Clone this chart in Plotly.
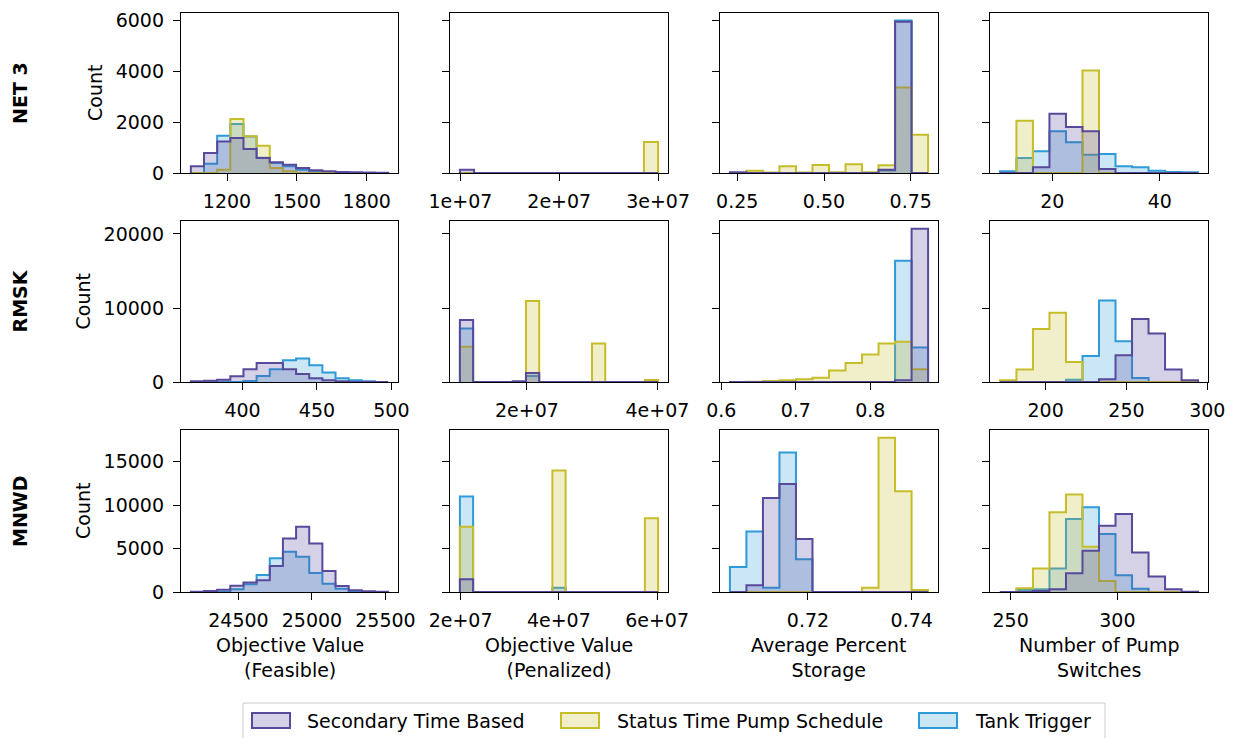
import numpy as np
import plotly.graph_objects as go

W, H = 1233, 738

series_names = ["Secondary Time Based", "Status Time Pump Schedule", "Tank Trigger"]
row_names = ["NET 3", "RMSK", "MNWD"]
col_titles = ["Objective Value<br>(Feasible)", "Objective Value<br>(Penalized)",
              "Average Percent<br>Storage", "Number of Pump<br>Switches"]

# ---------------- NET 3 ----------------
net3_feas_bins = [1044.7, 1892.0, 15]
net3_feas_stb = [261, 784, 1240, 1372, 941, 588, 418, 327, 196, 105, 65, 40, 30, 20, 10]
net3_feas_stps = [0, 0, 130, 2117, 1438, 1072, 196, 65, 0, 0, 0, 0, 0, 0, 0]
net3_feas_tt = [0, 366, 1464, 1921, 1430, 600, 390, 260, 130, 65, 30, 10, 0, 0, 0]

net3_pen_bins = [0.995e7, 3.0e7, 14]
net3_pen_stb = [130, 0, 0, 0, 0, 0, 0, 0, 0, 0, 0, 0, 0, 0]
net3_pen_stps = [0, 0, 0, 0, 0, 0, 0, 0, 0, 0, 0, 0, 0, 1215]
net3_pen_tt = []

net3_stor_bins = [0.2288, 0.80, 12]
net3_stor_stb = [30, 0, 0, 0, 0, 0, 0, 0, 0, 130, 5940, 0]
net3_stor_stps = [0, 90, 20, 260, 20, 314, 30, 340, 30, 300, 3360, 1500]
net3_stor_tt = [0, 0, 0, 0, 0, 0, 0, 0, 0, 100, 5980, 0]

net3_pump_bins = [10.28, 47.1, 12]
net3_pump_stb = [0, 0, 222, 2326, 1804, 1634, 157, 0, 0, 0, 0, 0]
net3_pump_stps = [0, 2052, 0, 0, 0, 4026, 0, 0, 0, 0, 0, 0]
net3_pump_tt = [65, 588, 850, 1634, 1202, 719, 745, 261, 222, 90, 40, 25]

# ---------------- RMSK ----------------
rmsk_feas_bins = [365.3, 497.8, 15]
rmsk_feas_stb = [90, 180, 316, 770, 1720, 2580, 2580, 1720, 1086, 500, 226, 90, 0, 0, 0]
rmsk_feas_stps = []
rmsk_feas_tt = [0, 0, 0, 0, 136, 815, 1720, 2940, 3170, 2260, 1267, 500, 226, 90, 0]

rmsk_pen_bins = [0.972e7, 4.01e7, 15]
rmsk_pen_stb = [8370, 0, 0, 0, 90, 1220, 0, 0, 0, 0, 0, 0, 0, 0, 0]
rmsk_pen_stps = [4750, 0, 0, 0, 0, 10950, 0, 0, 0, 0, 5200, 0, 0, 0, 270]
rmsk_pen_tt = [7240, 0, 0, 0, 0, 800, 0, 0, 0, 0, 0, 0, 0, 0, 0]

rmsk_stor_bins = [0.6116, 0.8775, 12]
rmsk_stor_stb = [10, 0, 0, 0, 0, 0, 0, 0, 0, 0, 226, 20720]
rmsk_stor_stps = [0, 45, 136, 226, 362, 588, 1540, 2580, 3710, 5200, 5430, 1720]
rmsk_stor_tt = [0, 0, 0, 0, 0, 0, 0, 0, 0, 0, 16380, 4660]

rmsk_pump_bins = [171.75, 294.3, 12]
rmsk_pump_stb = [0, 0, 0, 0, 0, 0, 362, 3620, 8507, 6560, 1674, 226]
rmsk_pump_stps = [226, 1674, 7150, 9367, 2715, 0, 0, 0, 0, 0, 0, 0]
rmsk_pump_tt = [0, 0, 0, 0, 316, 3530, 11000, 5520, 543, 0, 0, 0]

# ---------------- MNWD ----------------
mnwd_feas_bins = [24176, 25518, 15]
mnwd_feas_stb = [40, 115, 270, 732, 1080, 1350, 3007, 6168, 7517, 5590, 2430, 694, 193, 77, 40]
mnwd_feas_stps = []
mnwd_feas_tt = [0, 0, 0, 308, 887, 1966, 3894, 4626, 4048, 2197, 964, 385, 115, 0, 0]

mnwd_pen_bins = [1.9865e7, 6.02e7, 15]
mnwd_pen_stb = [1465, 0, 0, 0, 0, 0, 0, 0, 0, 0, 0, 0, 0, 0, 0]
mnwd_pen_stps = [7517, 0, 0, 0, 0, 0, 0, 13990, 0, 0, 0, 0, 0, 0, 8480]
mnwd_pen_tt = [10990, 0, 0, 0, 0, 0, 0, 500, 0, 0, 0, 0, 0, 0, 0]

mnwd_stor_bins = [0.70495, 0.74315, 12]
mnwd_stor_stb = [0, 771, 10832, 12451, 6091, 0, 0, 0, 0, 0, 0, 0]
mnwd_stor_stps = [0, 0, 0, 0, 0, 0, 0, 0, 500, 17770, 11603, 231]
mnwd_stor_tt = [2891, 6978, 500, 16075, 3778, 0, 0, 0, 0, 0, 0, 0]

mnwd_pump_bins = [245.0, 337.8, 12]
mnwd_pump_stb = [0, 0, 115, 308, 2159, 4742, 7633, 8982, 4549, 1773, 308, 40]
mnwd_pump_stps = [0, 424, 2700, 9175, 11218, 5204, 1272, 0, 0, 0, 0, 0]
mnwd_pump_tt = [0, 231, 308, 2700, 8404, 9753, 6669, 1928, 385, 0, 0, 0]

# ---------------- ticks ----------------
x_tickvals = [
    [[1200, 1500, 1800], [1e7, 2e7, 3e7], [0.25, 0.50, 0.75], [20, 40]],
    [[400, 450, 500], [2e7, 4e7], [0.6, 0.7, 0.8], [200, 250, 300]],
    [[24500, 25000, 25500], [2e7, 4e7, 6e7], [0.72, 0.74], [250, 300]],
]
x_ticktext = [
    [["1200", "1500", "1800"], ["1e+07", "2e+07", "3e+07"], ["0.25", "0.50", "0.75"], ["20", "40"]],
    [["400", "450", "500"], ["2e+07", "4e+07"], ["0.6", "0.7", "0.8"], ["200", "250", "300"]],
    [["24500", "25000", "25500"], ["2e+07", "4e+07", "6e+07"], ["0.72", "0.74"], ["250", "300"]],
]
y_tickvals = [[0, 2000, 4000, 6000], [0, 10000, 20000], [0, 5000, 10000, 15000]]
y_ticktext = [["0", "2000", "4000", "6000"], ["0", "10000", "20000"], ["0", "5000", "10000", "15000"]]

panels = [
    [(net3_feas_bins, net3_feas_stb, net3_feas_stps, net3_feas_tt),
     (net3_pen_bins, net3_pen_stb, net3_pen_stps, net3_pen_tt),
     (net3_stor_bins, net3_stor_stb, net3_stor_stps, net3_stor_tt),
     (net3_pump_bins, net3_pump_stb, net3_pump_stps, net3_pump_tt)],
    [(rmsk_feas_bins, rmsk_feas_stb, rmsk_feas_stps, rmsk_feas_tt),
     (rmsk_pen_bins, rmsk_pen_stb, rmsk_pen_stps, rmsk_pen_tt),
     (rmsk_stor_bins, rmsk_stor_stb, rmsk_stor_stps, rmsk_stor_tt),
     (rmsk_pump_bins, rmsk_pump_stb, rmsk_pump_stps, rmsk_pump_tt)],
    [(mnwd_feas_bins, mnwd_feas_stb, mnwd_feas_stps, mnwd_feas_tt),
     (mnwd_pen_bins, mnwd_pen_stb, mnwd_pen_stps, mnwd_pen_tt),
     (mnwd_stor_bins, mnwd_stor_stb, mnwd_stor_stps, mnwd_stor_tt),
     (mnwd_pump_bins, mnwd_pump_stb, mnwd_pump_stps, mnwd_pump_tt)],
]

# ---------------- styles ----------------
line_colors = ["#58499b", "#c6bd2b", "#2f9ad8"]
fill_colors = ["rgba(88,73,155,0.25)", "rgba(198,189,43,0.25)", "rgba(47,154,216,0.25)"]
FONT = "DejaVu Sans"
FS = 19

col_px = [(181, 398), (450, 668), (720, 938), (990, 1208)]
row_px = [(13, 173), (221, 382), (430, 592)]

fig = go.Figure()
layout = dict(width=W, height=H, autosize=False,
              margin=dict(l=0, r=0, t=0, b=0, pad=0, autoexpand=False),
              plot_bgcolor="white", paper_bgcolor="white", showlegend=False,
              font=dict(family=FONT, size=FS, color="black"))

annotations = []
shapes = []

for r in range(3):
    row_max = max(max(s) for p in panels[r] for s in p[1:] if len(s))
    for c in range(4):
        k = r * 4 + c + 1
        xa = "x" if k == 1 else f"x{k}"
        ya = "y" if k == 1 else f"y{k}"
        bins, stb, stps, tt = panels[r][c]
        edges = np.linspace(bins[0], bins[1], bins[2] + 1)
        # draw order: Tank Trigger, Status Time Pump Schedule, Secondary Time Based (on top)
        for si, counts in [(2, tt), (1, stps), (0, stb)]:
            if not len(counts):
                continue
            xs = [edges[0]] + list(edges[:-1]) + [edges[-1]]
            ys = [0] + list(counts) + [0]
            fig.add_trace(go.Scatter(
                x=xs, y=ys, xaxis=xa, yaxis=ya, mode="lines",
                line=dict(shape="hv", color=line_colors[si], width=2),
                fill="tozeroy", fillcolor=fill_colors[si],
                name=series_names[si], showlegend=False, hoverinfo="skip"))
        span = edges[-1] - edges[0]
        x0, x1 = col_px[c]
        y0, y1 = row_px[r]
        axis_common = dict(showline=True, linecolor="black", linewidth=1.3, mirror=True,
                           ticks="outside", ticklen=7, tickwidth=1.3, tickcolor="black",
                           showgrid=False, zeroline=False, automargin=False,
                           tickfont=dict(family=FONT, size=FS, color="black"))
        layout["xaxis" if k == 1 else f"xaxis{k}"] = dict(
            domain=[x0 / W, x1 / W], anchor=ya,
            range=[edges[0] - 0.05 * span, edges[-1] + 0.05 * span],
            tickmode="array", tickvals=x_tickvals[r][c], ticktext=x_ticktext[r][c],
            ticklabelstandoff=4, **axis_common)
        layout["yaxis" if k == 1 else f"yaxis{k}"] = dict(
            domain=[1 - y1 / H, 1 - y0 / H], anchor=xa,
            range=[0, row_max * 1.05],
            tickmode="array", tickvals=y_tickvals[r], ticktext=y_ticktext[r],
            showticklabels=(c == 0), ticklabelstandoff=5, **axis_common)

    yc = (row_px[r][0] + row_px[r][1]) / 2
    annotations.append(dict(text="Count", x=(95 if r == 0 else 83) / W, y=1 - yc / H,
                            xref="paper", yref="paper", showarrow=False, textangle=-90,
                            xanchor="center", yanchor="middle", font=dict(size=FS)))
    annotations.append(dict(text="<b>%s</b>" % row_names[r], x=20 / W, y=1 - yc / H,
                            xref="paper", yref="paper", showarrow=False, textangle=-90,
                            xanchor="center", yanchor="middle", font=dict(size=FS)))

for c in range(4):
    xc = (col_px[c][0] + col_px[c][1]) / 2
    annotations.append(dict(text=col_titles[c], x=xc / W, y=1 - 632 / H,
                            xref="paper", yref="paper", showarrow=False,
                            xanchor="center", yanchor="top", font=dict(size=FS)))

# legend (drawn as shapes + text)
shapes.append(dict(type="rect", xref="paper", yref="paper",
                   x0=243 / W, x1=1105 / W, y0=1 - 760 / H, y1=1 - 703 / H,
                   line=dict(color="#cccccc", width=1), fillcolor="rgba(255,255,255,0.8)",
                   layer="above"))
leg_patch_x = [252, 561, 919]
leg_text_x = [305, 615, 973]
for i in range(3):
    shapes.append(dict(type="rect", xref="paper", yref="paper",
                       x0=leg_patch_x[i] / W, x1=(leg_patch_x[i] + 38) / W,
                       y0=1 - 728 / H, y1=1 - 713 / H,
                       line=dict(color=line_colors[i], width=2), fillcolor=fill_colors[i],
                       layer="above"))
    annotations.append(dict(text=series_names[i], x=leg_text_x[i] / W, y=1 - 720.5 / H,
                            xref="paper", yref="paper", showarrow=False,
                            xanchor="left", yanchor="middle", font=dict(size=FS)))

layout["annotations"] = annotations
layout["shapes"] = shapes
fig.update_layout(**layout)
fig.write_html("out.html")
